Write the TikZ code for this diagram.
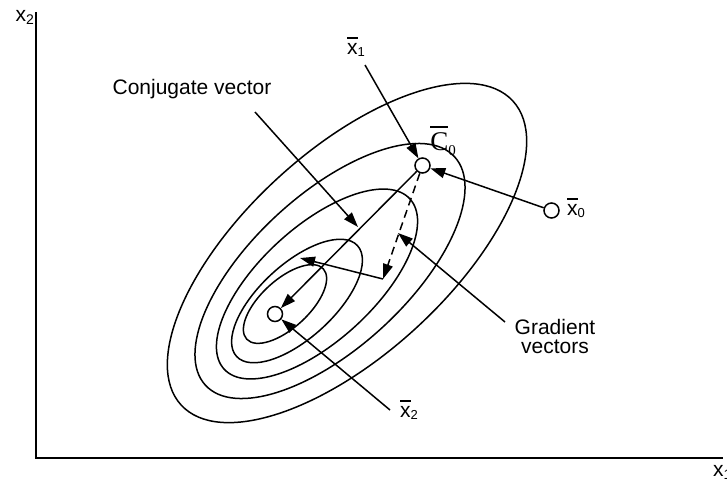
\documentclass[tikz,border=0pt]{standalone}
\usepackage{fontspec}
\setmainfont{Liberation Sans}
\newfontfamily\serifC{Liberation Serif}
\usetikzlibrary{arrows.meta}
\newcommand\barred[2]{\hbox{\vbox{\hrule height 1.4pt\kern 5pt\hbox{#1}}}\raisebox{-2pt}{\fontsize{13}{13}\selectfont #2}}
\newcommand\barredC[2]{\hbox{\vbox{\hrule height 1.2pt\kern 5pt\hbox{#1}}}\raisebox{-5pt}{\fontsize{15}{15}\selectfont #2}}
\tikzset{
  ln/.style={line width=1.5pt},
  tip/.style={-{Triangle[length=15pt,width=10pt]}},
  pt/.style={circle,draw,line width=1.5pt,fill=white,minimum size=15pt,inner sep=0pt},
  lbl/.style={font=\fontsize{21}{19}\selectfont,inner sep=0pt,align=center},
  contour/.style={line width=1.5pt}
}
\begin{document}
\begin{tikzpicture}[x=1pt,y=-1pt]
\useasboundingbox (0,0) rectangle (727,485);
% axes
\coordinate (ytop) at (36,12);
\coordinate (org) at (36,458);
\coordinate (xend) at (723,458);
\draw[ln] (ytop) -- (org) -- (xend);
\node[lbl,anchor=south east] (lx2) at (34,25) {x\raisebox{-3pt}{\fontsize{14}{14}\selectfont 2}};
\node[lbl,anchor=north west] (lx1) at (713,465) {x\raisebox{-3pt}{\fontsize{14}{14}\selectfont 1}};
% contours
\draw[contour,rotate around={42.5:(347,253)}] (347,253) ellipse [x radius=225, y radius=102];
\draw[contour,rotate around={42.5:(330,271)}] (330,271) ellipse [x radius=169, y radius=77];
\draw[contour,rotate around={42.5:(317,284)}] (317,284) ellipse [x radius=126, y radius=57];
\draw[contour,rotate around={42.5:(297,301)}] (297,301) ellipse [x radius=82, y radius=37];
\draw[contour,rotate around={42.5:(285,304)}] (285,304) ellipse [x radius=52, y radius=24];
% points
\node[pt] (c0) at (422.5,165.5) {};
\node[pt] (x0) at (551.5,210.5) {};
\node[pt] (x2) at (275,314) {};
% corner and tips
\coordinate (corner) at (383,279);
\coordinate (gtip) at (300,258);
% vectors
\draw[ln,tip] (x0) -- (c0);
\draw[ln,tip] (c0) -- (x2);
\draw[ln,tip,dash pattern=on 8pt off 5pt] (c0) -- (corner);
\draw[ln,tip] (corner) -- (gtip);
% labels
\node[inner sep=0pt,font=\serifC\fontsize{27}{27}\selectfont] (lc0) at (443,141) {\barredC{C}{0}};
\node[lbl] (lx0) at (576,208) {\barred{x}{0}};
\node[lbl] (lx1b) at (356,47) {\barred{x}{1}};
\node[lbl] (lx2b) at (409,410) {\barred{x}{2}};
\node[lbl] (lconj) at (192,89) {Conjugate vector};
\node[lbl] (lgrad) at (555,336) {Gradient\\vectors};
% pointers
\coordinate (x1s) at (365,65);
\coordinate (cs) at (255,112);
\coordinate (ce) at (358,227);
\coordinate (gs) at (505,322);
\coordinate (ge) at (398,233);
\coordinate (x2s) at (390,410);
\draw[ln,tip] (x1s) -- (c0);
\draw[ln,tip] (cs) -- (ce);
\draw[ln,tip] (gs) -- (ge);
\draw[ln,tip] (x2s) -- (x2);
\end{tikzpicture}
\end{document}
